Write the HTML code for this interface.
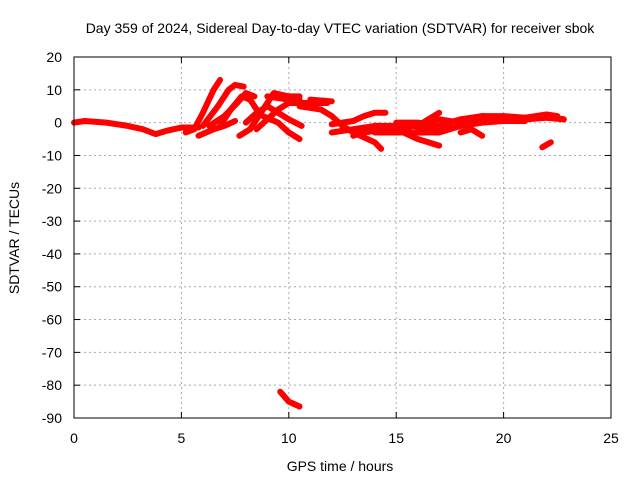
<!DOCTYPE html>
<html><head><meta charset="utf-8"><style>
body{margin:0;background:#fff}
svg{display:block;font-family:"Liberation Sans",sans-serif;font-size:14px}
</style></head><body>
<svg id="c" width="640" height="480">
<text x="340" y="33" text-anchor="middle">Day 359 of 2024, Sidereal Day-to-day VTEC variation (SDTVAR) for receiver sbok</text>
<text x="340" y="471" text-anchor="middle">GPS time / hours</text>
<text transform="translate(19,238) rotate(-90)" text-anchor="middle">SDTVAR / TECUs</text>
<g id="grid"></g><g id="marks"></g>
<rect x="74" y="57" width="537" height="361" fill="none" stroke="#000"/>
</svg>
<script>
const xTicks=[0,5,10,15,20,25];
const yTicks=[20,10,0,-10,-20,-30,-40,-50,-60,-70,-80,-90];
const s1=[[0,0],[0.5,0.5],[1.5,0],[2.5,-1],[3.2,-2],[3.8,-3.5],[4.3,-2.5],[5,-1.5],[5.8,-1.5]];
const s2=[[5.2,-3],[5.6,-2],[6,3],[6.5,10],[6.8,13]];
const s3=[[5.8,-4],[6.5,-2],[7,-1],[7.5,0.5]];
const s4=[[6,-1],[6.7,5],[7.2,10],[7.5,11.5],[7.9,11]];
const s5=[[6.8,-1],[7.3,4],[7.8,8],[8.2,7],[8.5,4]];
const s6=[[7.7,-4],[8.2,-2],[8.6,2],[9,6],[9.3,9],[10,8],[10.5,8]];
const s7=[[8.5,-2],[9,1],[9.5,4],[10,6],[11,6],[11.8,6]];
const s8=[[8,0],[8.5,3],[9,5],[9.5,3],[10,1],[10.6,-1]];
const s9=[[8.8,2],[9.5,0],[10,-3],[10.5,-5]];
const s10=[[10.5,5],[11.5,4],[12,2],[12.5,-1],[13,-3],[14,-6],[14.3,-8]];
const s11=[[12,-0.5],[12.5,0],[13,0.5],[13.5,2],[14,3],[14.5,3]];
const s12=[[12,-3],[13,-2],[14,-1],[15,-1],[16,-1],[17,-2],[17.5,-1]];
const s13=[[13,-4],[14,-2],[15,-1.5],[16,-1],[17,1],[18,0],[19,1],[20,1],[21,1],[22,1.5],[22.8,1]];
const s14=[[14,-3],[15,-3],[16,-3],[17,-3],[18,-1],[19,0],[20,0.5],[21,0.5]];
const s15=[[15,-2],[16,-5],[17,-7]];
const s16=[[16,-1],[16.5,1],[17,3]];
const s17=[[18,-1],[19,2],[20,1.5],[21,1.5],[22,2],[22.8,1]];
const s18=[[21.8,-7.5],[22.2,-6]];
const s19=[[9.6,-82],[10,-85],[10.5,-86.5]];
const s20=[[18,-3],[18.5,-2],[19,-4]];
const s21=[[15,0],[16,0],[17,-1],[18,1],[19,2],[20,2],[21,1.5],[22,2.5],[22.5,2]];
const s22=[[16,-2],[17,-1],[18,1],[19,1.5],[20,1]];
const s23=[[11,7],[12,6.5]];
const s24=[[9,8],[10,7],[10.5,7]];
const s25=[[6.3,-1],[7,2],[7.6,6],[8,9],[8.4,8]];
const s26=[[12.5,-2],[13.5,-3],[14.5,-2],[15.5,-2]];
const series=[s1,s2,s3,s4,s5,s6,s7,s8,s9,s10,s11,s12,s13,s14,s15,s16,s17,s18,s19,s20,s21,s22,s23,s24,s25,s26];
const X=h=>74+h*537/25, Y=v=>57+(20-v)*361/110;
const NS="http://www.w3.org/2000/svg";
const g=document.getElementById('grid'), m=document.getElementById('marks');
function mk(tag,a,p){const e=document.createElementNS(NS,tag);for(const k in a)e.setAttribute(k,a[k]);p.appendChild(e);return e;}
xTicks.forEach(t=>{
 if(t>0&&t<25){const l=mk('line',{x1:X(t),x2:X(t),y1:57,y2:418,stroke:'#aaa','stroke-dasharray':'2,3'},g);
 
 }
 const tx=mk('text',{x:X(t),y:443,'text-anchor':'middle'},g);tx.textContent=t;
 
 
 mk('line',{x1:X(t),x2:X(t),y1:418,y2:412,stroke:'#000'},g);
 mk('line',{x1:X(t),x2:X(t),y1:57,y2:63,stroke:'#000'},g);
});
yTicks.forEach(t=>{
 if(t<20&&t>-90){const l=mk('line',{x1:74,x2:611,y1:Y(t),y2:Y(t),stroke:'#aaa','stroke-dasharray':'2,3'},g);
 
 }
 const tx=mk('text',{x:62,y:Y(t)+5,'text-anchor':'end'},g);tx.textContent=t;
 
 
 mk('line',{x1:74,x2:80,y1:Y(t),y2:Y(t),stroke:'#000'},g);
 mk('line',{x1:605,x2:611,y1:Y(t),y2:Y(t),stroke:'#000'},g);
});
series.forEach((s,i)=>{
 const p=mk('polyline',{points:s.map(d=>X(d[0])+','+Y(d[1])).join(' '),fill:'none',stroke:'#f00','stroke-width':6,'stroke-linecap':'round','stroke-linejoin':'round'},m);
 
 
});
</script>
</body></html>
